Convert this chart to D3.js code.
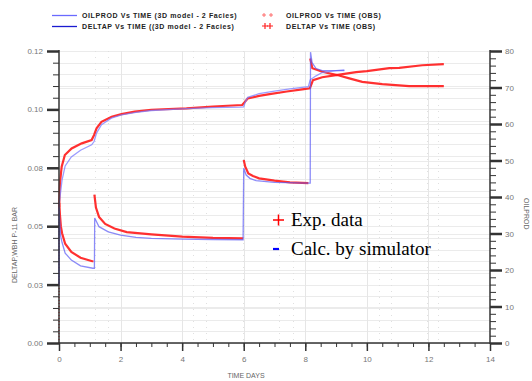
<!DOCTYPE html>
<html>
<head>
<meta charset="utf-8">
<script src="https://cdn.jsdelivr.net/npm/d3@7"></script>
<style>
  body { margin: 0; background: #fff; }
  svg { display: block; }
</style>
</head>
<body>
<div id="chart"></div>
<script>
// time in days, deltap in BAR (left axis), oilprod on the right axis
// NaN splits a series where the observed markers stop
const obsOilT = [0, 0.005, 0.03, 0.087, 0.19, 0.41, 0.74, 1.06, 1.14, 1.22, 1.38, 1.71, 2.03, 2.46, 3.0, 4.14, 5.0, 5.95, 6.03, 6.13, 6.5, 6.84, 7.4, 7.9, 8.15, 8.25, 8.55, 9.0, 9.65, 10.0, 10.73, 11.05, 11.8, 12.5];
const obsOil = [0, 37.3, 43.8, 48.3, 51.5, 53.3, 54.7, 55.6, 57.0, 58.8, 60.6, 62.0, 62.7, 63.4, 63.9, 64.3, 64.8, 65.2, 66.0, 67.0, 67.7, 68.2, 68.9, 69.5, 69.8, 72.0, 72.8, 73.4, 74.2, 74.5, 75.3, 75.4, 76.1, 76.4];

const obsDpT = [0, 0.008, 0.03, 0.06, 0.1, 0.2, 0.4, 0.7, 1.08, 1.12, 1.13, 1.15, 1.2, 1.3, 1.5, 1.8, 2.2, 3.0, 4.0, 5.0, 5.98, 5.99, 6.0, 6.05, 6.15, 6.3, 6.5, 7.0, 7.5, 8.1, 8.13, 8.16, 8.23, 8.55, 9.04, 9.43, 9.85, 10.5, 11.37, 12.5];
const obsDp = [0, 0.06, 0.055, 0.05, 0.047, 0.0425, 0.039, 0.0365, 0.035, 0.035, NaN, 0.0635, 0.058, 0.054, 0.051, 0.049, 0.0475, 0.0465, 0.0455, 0.045, 0.0448, NaN, 0.0783, 0.0755, 0.0726, 0.0715, 0.0705, 0.0695, 0.0688, 0.0684, NaN, 0.1218, 0.1176, 0.1161, 0.1147, 0.1133, 0.1118, 0.1108, 0.11, 0.11];

const simOilT = [0, 0.003, 0.1, 0.2, 0.4, 0.7, 1.06, 1.14, 1.22, 1.38, 1.7, 2.03, 2.5, 3.0, 4.14, 5.0, 5.87, 6.0, 6.05, 6.13, 6.5, 7.0, 7.5, 8.1, 8.16, 8.35, 8.55, 9.0, 9.27];
const simOil = [16, 38, 44.7, 48.5, 51.0, 52.8, 54.3, 55.2, 57.5, 59.8, 61.6, 62.5, 63.2, 63.7, 64.2, 64.5, 64.6, 64.7, 66.0, 67.3, 68.3, 69.0, 69.6, 70.2, 72.1, 73.2, 74.1, 74.6, 74.8];

const simDpT = [0, 0.003, 0.02, 0.05, 0.1, 0.2, 0.4, 0.7, 1.1, 1.15, 1.16, 1.3, 1.6, 2.0, 2.5, 3.0, 4.0, 5.0, 5.98, 6.0, 6.08, 6.2, 6.4, 7.0, 8.1, 8.16, 8.17, 8.22, 8.35, 8.55, 9.27];
const simDp = [0.0245, 0.058, 0.053, 0.046, 0.043, 0.0385, 0.0355, 0.033, 0.032, 0.032, 0.0535, 0.0498, 0.0476, 0.0462, 0.0452, 0.0448, 0.0445, 0.0443, 0.0442, 0.0748, 0.0719, 0.0705, 0.0695, 0.0688, 0.0684, 0.0684, 0.1245, 0.12, 0.1175, 0.1166, 0.1166];

const xTicks = [0, 2, 4, 6, 8, 10, 12, 14];
const leftTicks = [0, 0.025, 0.05, 0.075, 0.1, 0.125];
const leftLabels = ["0.00", "0.03", "0.05", "0.08", "0.10", "0.12"];
const rightTicks = [0, 10, 20, 30, 40, 50, 60, 70, 80];
const dottedGrid = [1.17, 1.59, 4.35, 4.79, 5.97, 7.16, 7.6, 10.4, 10.78, 11.96, 12.3];

const legendSim = ["OILPROD Vs TIME (3D model - 2 Facies)", "DELTAP Vs TIME ((3D model - 2 Facies)"];
const legendObs = ["OILPROD Vs TIME (OBS)", "DELTAP Vs TIME (OBS)"];

const zip = (ts, vs) => ts.map((t, i) => ({ t: t, v: vs[i] }));

const createChart = () => {
  var width = 532;
  var height = 381;
  var left = 59, right = 490, top = 51, bottom = 343;

  var svg = d3
    .select("#chart")
    .append("svg")
    .attr("width", width)
    .attr("height", height);

  var x = d3.scaleLinear().domain([0, 14]).range([left, right]);
  var yL = d3.scaleLinear().domain([0, 0.125]).range([bottom, top]);
  var yR = d3.scaleLinear().domain([0, 80]).range([bottom, top]);

  // grid
  var grid = svg.append("g").attr("class", "grid");
  grid
    .selectAll("line.h")
    .data(d3.range(0, 0.1251, 0.005))
    .enter()
    .append("line")
    .attr("x1", left)
    .attr("x2", right)
    .attr("y1", (d) => Math.round(yL(d)) + 0.5)
    .attr("y2", (d) => Math.round(yL(d)) + 0.5)
    .attr("stroke", "#ebebeb");
  grid
    .selectAll("line.hr")
    .data(rightTicks)
    .enter()
    .append("line")
    .attr("x1", left)
    .attr("x2", right)
    .attr("y1", (d) => Math.round(yR(d)) + 0.5)
    .attr("y2", (d) => Math.round(yR(d)) + 0.5)
    .attr("stroke", "#ebebeb");
  grid
    .selectAll("line.v")
    .data(xTicks.slice(1, -1))
    .enter()
    .append("line")
    .attr("x1", (d) => Math.round(x(d)) + 0.5)
    .attr("x2", (d) => Math.round(x(d)) + 0.5)
    .attr("y1", top)
    .attr("y2", bottom)
    .attr("stroke", "#e6e6e6");
  grid
    .selectAll("line.d")
    .data(dottedGrid)
    .enter()
    .append("line")
    .attr("x1", (d) => Math.round(x(d)) + 0.5)
    .attr("x2", (d) => Math.round(x(d)) + 0.5)
    .attr("y1", top)
    .attr("y2", bottom)
    .attr("stroke", "#e0e0e0")
    .attr("stroke-dasharray", "1,5");

  // series
  var lineL = d3
    .line()
    .defined((d) => !isNaN(d.v))
    .x((d) => x(d.t))
    .y((d) => yL(d.v));
  var lineR = d3
    .line()
    .defined((d) => !isNaN(d.v))
    .x((d) => x(d.t))
    .y((d) => yR(d.v));

  var oilObs = zip(obsOilT, obsOil);
  var dpObs = zip(obsDpT, obsDp);

  // the first observed point sits at 0, the markers are sparse there
  svg
    .append("path")
    .attr("d", lineR(oilObs.slice(0, 2)))
    .attr("fill", "none")
    .attr("stroke", "#ff3030")
    .attr("stroke-width", 1.2)
    .attr("stroke-dasharray", "1,2");

  svg
    .append("path")
    .attr("d", lineR(oilObs.slice(1)))
    .attr("fill", "none")
    .attr("stroke", "#ff1a1a")
    .attr("stroke-width", 2.2)
    .attr("opacity", 0.9);

  svg
    .append("path")
    .attr("d", lineL(dpObs.slice(1)))
    .attr("fill", "none")
    .attr("stroke", "#ff1a1a")
    .attr("stroke-width", 2.2)
    .attr("opacity", 0.9);

  svg
    .append("path")
    .attr("d", lineR(zip(simOilT, simOil)))
    .attr("fill", "none")
    .attr("stroke", "#7a7aff")
    .attr("stroke-width", 1.3)
    .attr("opacity", 0.75);

  svg
    .append("path")
    .attr("d", lineL(zip(simDpT, simDp)))
    .attr("fill", "none")
    .attr("stroke", "#5a5af5")
    .attr("stroke-width", 1.3)
    .attr("opacity", 0.7);

  // axes
  var axisColor = "#333";
  var leftAxis = svg.append("g").attr("transform", "translate(" + left + ",0)");
  leftAxis
    .call(
      d3.axisLeft(yL).tickValues(d3.range(0, 0.1251, 0.005)).tickSize(6).tickFormat("")
    )
    .call((g) => g.select(".domain").remove());
  leftAxis
    .append("g")
    .call(
      d3.axisLeft(yL).tickValues(leftTicks).tickSize(12).tickPadding(4)
        .tickFormat((d, i) => leftLabels[i])
    )
    .call((g) => g.select(".domain").remove())
    .call((g) => g.selectAll("line").attr("stroke-width", 2.5));

  var rightAxis = svg.append("g").attr("transform", "translate(" + right + ",0)");
  rightAxis
    .call(d3.axisRight(yR).tickValues(d3.range(0, 80.1, 2)).tickSize(6).tickFormat(""))
    .call((g) => g.select(".domain").remove());
  rightAxis
    .append("g")
    .call(d3.axisRight(yR).tickValues(rightTicks).tickSize(12).tickPadding(3))
    .call((g) => g.select(".domain").remove())
    .call((g) => g.selectAll("line").attr("stroke-width", 2.5));

  var bottomAxis = svg.append("g").attr("transform", "translate(0," + bottom + ")");
  bottomAxis
    .call(d3.axisBottom(x).tickValues(d3.range(0, 14.01, 0.5)).tickSize(4).tickFormat(""))
    .call((g) => g.select(".domain").remove());
  bottomAxis
    .append("g")
    .call(d3.axisBottom(x).tickValues(xTicks).tickSize(8).tickPadding(5))
    .call((g) => g.select(".domain").remove())
    .call((g) => g.selectAll("line").attr("stroke-width", 1.5));

  svg.selectAll(".tick line").attr("stroke", axisColor);
  svg
    .selectAll(".tick text")
    .attr("fill", "#777")
    .style("font-family", "Liberation Sans, Arial, sans-serif")
    .style("font-size", "8px");

  // axis lines
  svg.append("line").attr("x1", left).attr("x2", left).attr("y1", top - 1).attr("y2", bottom + 1)
    .attr("stroke", axisColor).attr("stroke-width", 1.5);
  svg.append("line").attr("x1", right).attr("x2", right).attr("y1", top - 1).attr("y2", bottom + 1)
    .attr("stroke", axisColor).attr("stroke-width", 1.5);
  svg.append("line").attr("x1", left).attr("x2", right).attr("y1", bottom).attr("y2", bottom)
    .attr("stroke", axisColor).attr("stroke-width", 1.5);

  // axis titles
  svg
    .append("text")
    .attr("x", 246)
    .attr("y", 378)
    .attr("text-anchor", "middle")
    .attr("fill", "#666")
    .style("font-family", "Liberation Sans, Arial, sans-serif")
    .style("font-size", "7px")
    .text("TIME   DAYS");

  svg
    .append("text")
    .attr("transform", "translate(17,245) rotate(-90)")
    .attr("text-anchor", "middle")
    .attr("fill", "#666")
    .style("font-family", "Liberation Sans, Arial, sans-serif")
    .style("font-size", "7px")
    .text("DELTAP,WBH P-11    BAR");

  svg
    .append("text")
    .attr("transform", "translate(524,198) rotate(90)")
    .attr("fill", "#666")
    .style("font-family", "Liberation Sans, Arial, sans-serif")
    .style("font-size", "7px")
    .text("OILPROD");

  // legend
  var legend = svg.append("g").style("font-family", "Liberation Sans, Arial, sans-serif")
    .style("font-size", "7px").style("font-weight", "bold").attr("fill", "#222");
  var simColors = ["#6a6aff", "#1a1ad0"];
  legendSim.forEach((t, i) => {
    legend.append("line").attr("x1", 52).attr("x2", 77)
      .attr("y1", 15.5 + i * 11).attr("y2", 15.5 + i * 11)
      .attr("stroke", simColors[i]).attr("stroke-width", 1.3);
    legend.append("text").attr("x", 82).attr("y", 18 + i * 11)
      .style("letter-spacing", "0.6px").text(t);
  });
  legendObs.forEach((t, i) => {
    var s = i == 0 ? 2 : 3;
    var xs = i == 0 ? [264, 271] : [265, 270];
    xs.forEach((cx) => {
      legend.append("path")
        .attr("d", "M" + (cx - s) + "," + (15 + i * 11) + "h" + 2 * s +
          "M" + cx + "," + (15 + i * 11 - s) + "v" + 2 * s)
        .attr("stroke", i == 0 ? "#ff6060" : "#ff2020")
        .attr("stroke-width", i == 0 ? 0.9 : 1.2);
    });
    legend.append("text").attr("x", 286).attr("y", 17.5 + i * 11)
      .style("letter-spacing", "0.6px").text(t);
  });

  // annotation
  var note = svg.append("g").style("font-family", "Liberation Serif, Times New Roman, serif")
    .style("font-size", "19px").attr("fill", "#000");
  note.append("path").attr("d", "M273,220h11M278.5,214.5v11")
    .attr("stroke", "#ff0000").attr("stroke-width", 1.5);
  note.append("text").attr("x", 291).attr("y", 226).text("Exp. data");
  note.append("path").attr("d", "M273,249h6")
    .attr("stroke", "#0000ff").attr("stroke-width", 2.2);
  note.append("text").attr("x", 291).attr("y", 255).text("Calc. by simulator");
};

createChart();
</script>
</body>
</html>
